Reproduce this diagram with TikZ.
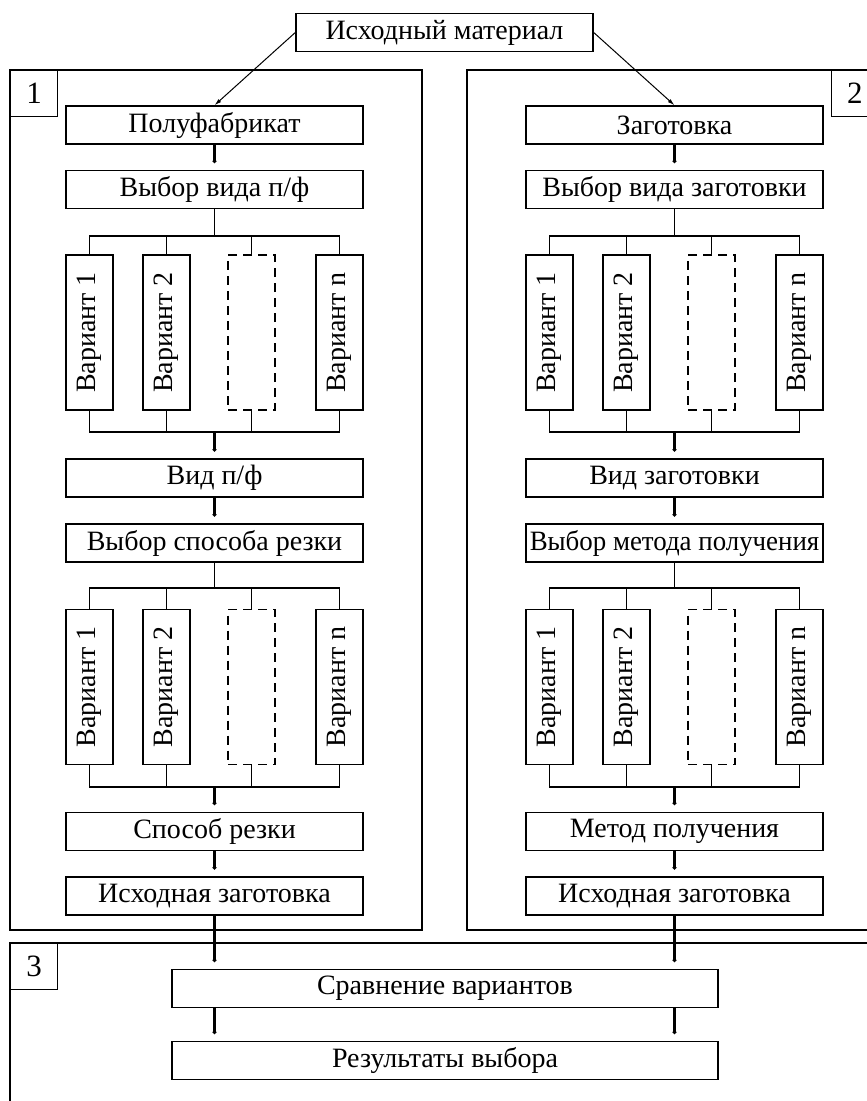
\documentclass[tikz,border=0pt]{standalone}
\usepackage{fontspec}
\setmainfont{Liberation Serif}
\usetikzlibrary{arrows.meta,calc}
\newcommand{\VarGroup}[5]{%
  \node[varbox] (#1a) at (#2-125,#3) {\rotatebox{90}{Вариант 1}};
  \node[varbox] (#1b) at (#2-48,#3) {\rotatebox{90}{Вариант 2}};
  \node[varbox,dashbox] (#1c) at (#2+37,#3) {};
  \node[varbox] (#1d) at (#2+125,#3) {\rotatebox{90}{Вариант n}};
  \coordinate (#1top) at (#2,#4);
  \coordinate (#1bot) at (#2,#5);
  \draw[conn] (#1a.north) -- (#1a.north |- #1top) -- (#1d.north |- #1top) -- (#1d.north);
  \draw[conn] (#1b.north) -- (#1b.north |- #1top);
  \draw[conn] (#1c.north) -- (#1c.north |- #1top);
  \draw[conn] (#1a.south) -- (#1a.south |- #1bot) -- (#1d.south |- #1bot) -- (#1d.south);
  \draw[conn] (#1b.south) -- (#1b.south |- #1bot);
  \draw[conn] (#1c.south) -- (#1c.south |- #1bot);
}
\begin{document}
\begin{tikzpicture}[x=1pt,y=-1pt,
  txt/.style={font=\fontsize{28}{30}\selectfont},
  box/.style={draw,line width=1.4pt,minimum width=297pt,minimum height=38pt,inner sep=0pt,txt},
  widebox/.style={box,minimum width=546pt},
  varbox/.style={draw,line width=1.4pt,minimum width=47pt,minimum height=155pt,inner sep=0pt,txt},
  dashbox/.style={line width=1.6pt,dash pattern=on 9pt off 6pt},
  frame/.style={draw,line width=1.4pt},
  numbox/.style={draw,line width=1.4pt,minimum width=47pt,minimum height=46pt,inner sep=0pt,font=\fontsize{31}{33}\selectfont},
  conn/.style={line width=1.4pt},
  thickarrow/.style={line width=2.6pt,-{Latex[length=9pt,width=3.2pt]}},
  thinarrow/.style={line width=1pt,-{Latex[length=7pt,width=4pt]}}
]
\clip (0,0) rectangle (867,1101);
\fill[white] (0,0) rectangle (867,1101);

% frames
\draw[frame] (10,70) rectangle (422,930);
\draw[frame] (467,70) rectangle (879,930);
\draw[frame] (10,943) rectangle (900,1130);
\node[numbox,anchor=north west] (n1) at (10,70) {1};
\node[numbox,anchor=north east] (n2) at (879,70) {2};
\node[numbox,anchor=north west] (n3) at (10,943) {3};

% top
\node[box] (IM) at (444.5,32.5) {Исходный материал};

% left column
\node[box] (PF) at (214.5,125) {Полуфабрикат};
\node[box] (VVP) at (214.5,189.5) {Выбор вида п/ф};
\VarGroup{LA}{214.5}{332.5}{236}{432}
\node[box] (VP) at (214.5,478) {Вид п/ф};
\node[box] (VSR) at (214.5,543) {Выбор способа резки};
\VarGroup{LB}{214.5}{687}{588}{787}
\node[box] (SR) at (214.5,831.5) {Способ резки};
\node[box] (IZL) at (214.5,896) {Исходная заготовка};

% right column
\node[box] (ZG) at (674.5,125) {Заготовка};
\node[box] (VVZ) at (674.5,189.5) {Выбор вида заготовки};
\VarGroup{RA}{674.5}{332.5}{236}{432}
\node[box] (VZ) at (674.5,478) {Вид заготовки};
\node[box] (VMP) at (674.5,543) {\scalebox{0.96}[1]{Выбор метода получения}};
\VarGroup{RB}{674.5}{687}{588}{787}
\node[box] (MP) at (674.5,831.5) {Метод получения};
\node[box] (IZR) at (674.5,896) {Исходная заготовка};

% bottom
\node[widebox] (SV) at (445,988.5) {Сравнение вариантов};
\node[widebox] (RV) at (445,1060.5) {Результаты выбора};

% connectors
\draw[thinarrow] (IM.west) -- (PF.north);
\draw[thinarrow] (IM.east) -- (ZG.north);

\draw[thickarrow] (PF.south) -- (VVP.north);
\draw[conn] (VVP.south) -- (LAtop);
\draw[thickarrow] (LAbot) -- (VP.north);
\draw[thickarrow] (VP.south) -- (VSR.north);
\draw[conn] (VSR.south) -- (LBtop);
\draw[thickarrow] (LBbot) -- (SR.north);
\draw[thickarrow] (SR.south) -- (IZL.north);

\draw[thickarrow] (ZG.south) -- (VVZ.north);
\draw[conn] (VVZ.south) -- (RAtop);
\draw[thickarrow] (RAbot) -- (VZ.north);
\draw[thickarrow] (VZ.south) -- (VMP.north);
\draw[conn] (VMP.south) -- (RBtop);
\draw[thickarrow] (RBbot) -- (MP.north);
\draw[thickarrow] (MP.south) -- (IZR.north);

\draw[thickarrow] (IZL.south) -- (IZL.south |- SV.north);
\draw[thickarrow] (IZR.south) -- (IZR.south |- SV.north);
\draw[thickarrow] (IZL.south |- SV.south) -- (IZL.south |- RV.north);
\draw[thickarrow] (IZR.south |- SV.south) -- (IZR.south |- RV.north);
\end{tikzpicture}
\end{document}
